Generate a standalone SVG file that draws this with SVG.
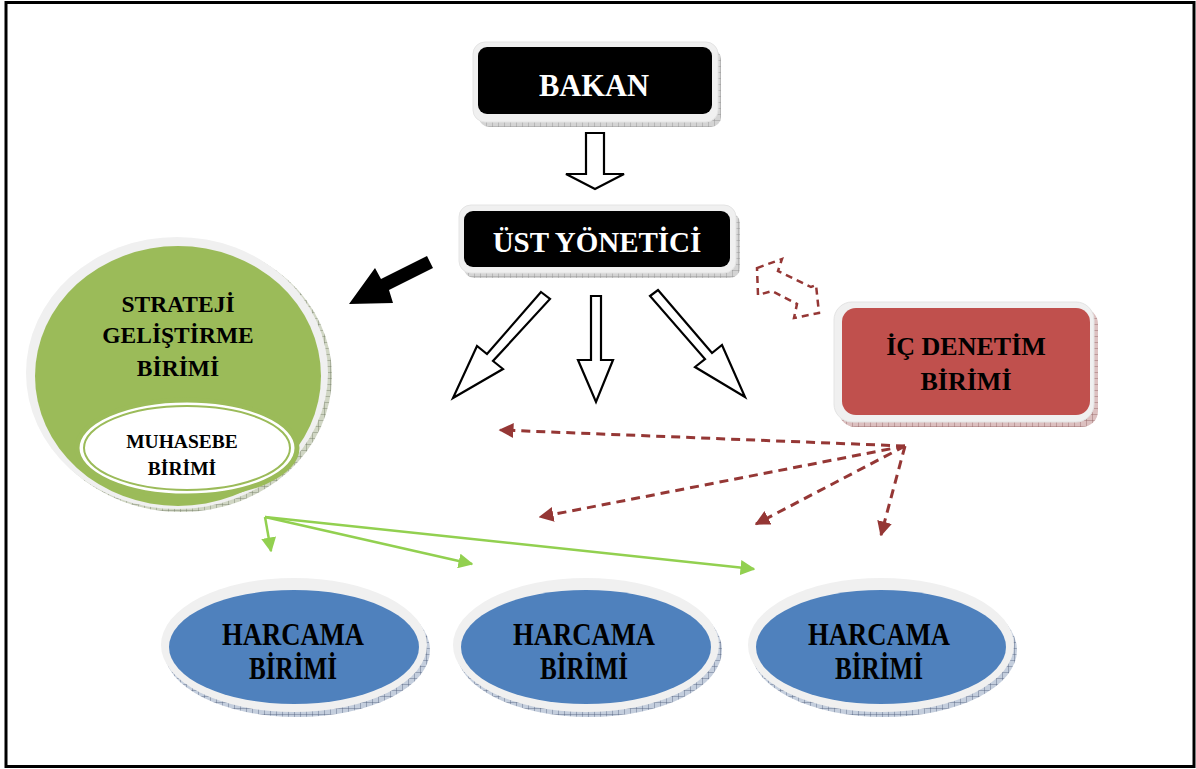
<svg xmlns="http://www.w3.org/2000/svg" width="1196" height="769" viewBox="0 0 1196 769">
<defs>
<pattern id="hatchGrey" width="6" height="6" patternUnits="userSpaceOnUse">
<rect width="6" height="6" fill="#d4d4d4"/>
<path d="M0 0H6M0 0V6" stroke="#8c8c8c" stroke-width="0.8"/>
</pattern>
<pattern id="hatchRed" width="6" height="6" patternUnits="userSpaceOnUse">
<rect width="6" height="6" fill="#dcc0c0"/>
<path d="M0 0H6M0 0V6" stroke="#8e6060" stroke-width="0.8"/>
</pattern>
<pattern id="hatchBlue" width="6" height="6" patternUnits="userSpaceOnUse">
<rect width="6" height="6" fill="#c4cedd"/>
<path d="M0 0H6M0 0V6" stroke="#4a5a78" stroke-width="0.8"/>
</pattern>
<pattern id="hatchGreen" width="6" height="6" patternUnits="userSpaceOnUse">
<rect width="6" height="6" fill="#d0d6c4"/>
<path d="M0 0H6M0 0V6" stroke="#6e7760" stroke-width="0.8"/>
</pattern>
<marker id="redHead" viewBox="0 0 10 10" refX="9" refY="5" markerWidth="5" markerHeight="5" orient="auto-start-reverse" markerUnits="strokeWidth">
<path d="M0 0L10 5L0 10Z" fill="#953735"/>
</marker>
<marker id="greenHead" viewBox="0 0 10 10" refX="9" refY="5" markerWidth="6" markerHeight="6" orient="auto" markerUnits="strokeWidth">
<path d="M0 0L10 5L0 10Z" fill="#92D050"/>
</marker>
</defs>
<style>
.t{font-family:"Liberation Serif","Times New Roman",serif;font-weight:bold;text-anchor:middle}
.w{fill:#ffffff}
.k{fill:#000000}
.bevel{fill:#f0f0f0;stroke:#e4e4e4;stroke-width:1}
.hollow{fill:#ffffff;stroke:#000000;stroke-width:2.2;stroke-linejoin:miter}
.red{fill:none;stroke:#953735;stroke-width:3;stroke-dasharray:9 6;marker-end:url(#redHead)}
.green{fill:none;stroke:#92D050;stroke-width:2.5;marker-end:url(#greenHead)}
</style>
<rect x="0" y="0" width="1196" height="769" fill="#ffffff"/>
<rect x="6" y="2.5" width="1188" height="764" fill="none" stroke="#000000" stroke-width="3"/>

<g id="bakan">
<rect x="479" y="49" width="242" height="78" rx="10" fill="url(#hatchGrey)"/>
<rect class="bevel" x="473" y="42" width="245" height="80" rx="12"/>
<rect x="478" y="47" width="234" height="67" rx="9" fill="#000000"/>
<text class="t w" x="594" y="96" font-size="30.5">BAKAN</text>
</g>

<g id="ust-yonetici">
<rect x="464" y="213" width="276" height="65" rx="10" fill="url(#hatchGrey)"/>
<rect class="bevel" x="459" y="205" width="277" height="68" rx="12"/>
<rect x="464" y="211" width="266" height="56" rx="9" fill="#000000"/>
<text class="t w" x="597" y="252" font-size="29">ÜST YÖNETİCİ</text>
</g>

<g id="strateji">
<ellipse cx="181" cy="376" rx="151" ry="136" fill="url(#hatchGreen)"/>
<ellipse cx="177" cy="373" rx="151" ry="136" fill="#f0f0f0"/>
<ellipse cx="178" cy="376" rx="143" ry="130" fill="#9BBB59"/>
<text class="t k" x="178" y="312" font-size="23.5">STRATEJİ</text>
<text class="t k" x="178" y="343" font-size="23.5">GELİŞTİRME</text>
<text class="t k" x="178" y="376" font-size="23.5">BİRİMİ</text>
</g>

<g id="muhasebe">
<ellipse cx="187" cy="448" rx="110" ry="48" fill="#ffffff" stroke="#9BBB59" stroke-width="5"/>
<ellipse cx="187" cy="448" rx="103" ry="42" fill="#ffffff" stroke="#9BBB59" stroke-width="2"/>
<text class="t k" x="182" y="448" font-size="19.5">MUHASEBE</text>
<text class="t k" x="182" y="475" font-size="19.5">BİRİMİ</text>
</g>

<g id="ic-denetim">
<rect x="839" y="308" width="259" height="119" rx="16" fill="url(#hatchRed)"/>
<rect class="bevel" x="834" y="302" width="260" height="120" rx="18"/>
<rect x="842" y="308" width="248" height="107" rx="14" fill="#C0504D"/>
<text class="t k" x="966" y="355" font-size="26">İÇ DENETİM</text>
<text class="t k" x="966" y="390" font-size="26">BİRİMİ</text>
</g>

<g id="harcama-1">
<ellipse cx="297" cy="650" rx="133" ry="67" fill="url(#hatchBlue)"/>
<ellipse cx="294" cy="645" rx="133" ry="67" fill="#f0f0f0"/>
<ellipse cx="294" cy="647" rx="125" ry="57" fill="#4F81BD"/>
<text class="t k" x="293" y="645" font-size="31" textLength="142" lengthAdjust="spacingAndGlyphs">HARCAMA</text>
<text class="t k" x="293" y="679" font-size="31" textLength="88" lengthAdjust="spacingAndGlyphs">BİRİMİ</text>
</g>

<g id="harcama-2">
<ellipse cx="589" cy="650" rx="133" ry="67" fill="url(#hatchBlue)"/>
<ellipse cx="586" cy="645" rx="133" ry="67" fill="#f0f0f0"/>
<ellipse cx="586" cy="647" rx="125" ry="57" fill="#4F81BD"/>
<text class="t k" x="584" y="645" font-size="31" textLength="142" lengthAdjust="spacingAndGlyphs">HARCAMA</text>
<text class="t k" x="584" y="679" font-size="31" textLength="88" lengthAdjust="spacingAndGlyphs">BİRİMİ</text>
</g>

<g id="harcama-3">
<ellipse cx="884" cy="650" rx="133" ry="67" fill="url(#hatchBlue)"/>
<ellipse cx="881" cy="645" rx="133" ry="67" fill="#f0f0f0"/>
<ellipse cx="881" cy="647" rx="125" ry="57" fill="#4F81BD"/>
<text class="t k" x="879" y="645" font-size="31" textLength="142" lengthAdjust="spacingAndGlyphs">HARCAMA</text>
<text class="t k" x="879" y="679" font-size="31" textLength="88" lengthAdjust="spacingAndGlyphs">BİRİMİ</text>
</g>

<g id="connectors">
<polygon class="hollow" points="586,133 604,133 604,174 624,174 595,189 566,174 586,174"/>
<polygon class="hollow" points="541,292 550,299 493,361 503,369 453,398 477,346 487,354"/>
<polygon class="hollow" points="591,296 601,296 601,360 613,360 596,402 578,360 591,360"/>
<polygon class="hollow" points="658,290 712,353 722,345 745,397 695,367 705,359 650,296"/>
<polygon points="427,256 433,268 389,290 393,303 349,304 375,268 381,279" fill="#000000"/>
<polygon points="757,268 782,259 778,271 811,287 816,285 819,313 794,318 797,304 772,291 758,295" fill="none" stroke="#953735" stroke-width="2.5" stroke-dasharray="7 5"/>
<path class="red" d="M905 446L500 430"/>
<path class="red" d="M905 446L540 517"/>
<path class="red" d="M905 446L756 524"/>
<path class="red" d="M905 446L881 535"/>
<path class="green" d="M265 517L271 551"/>
<path class="green" d="M265 517L472 564"/>
<path class="green" d="M265 517L754 569"/>
</g>
</svg>
